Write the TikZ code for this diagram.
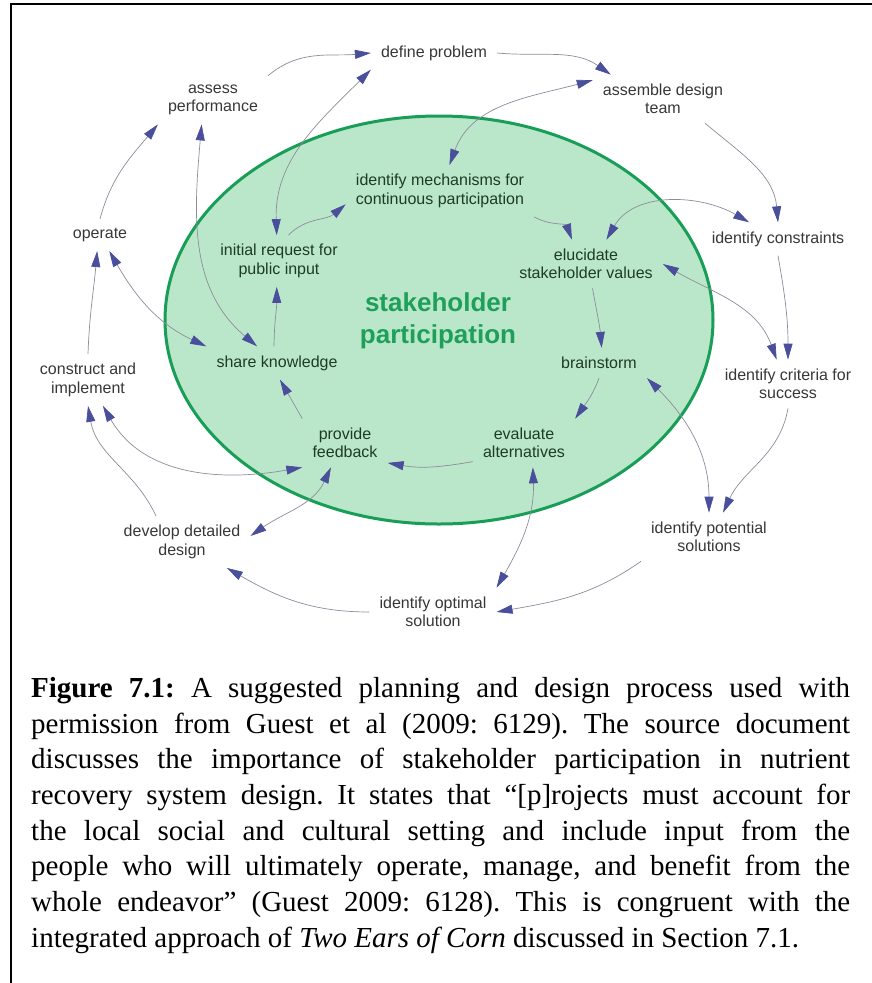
\documentclass[tikz,border=0pt]{standalone}
\usepackage{fontspec}
\setmainfont{Liberation Serif}
\newfontfamily\diagfont{Liberation Sans}
\usetikzlibrary{arrows.meta}
\definecolor{blobfill}{RGB}{186,231,201}
\definecolor{blobline}{RGB}{25,158,88}
\definecolor{hubgreen}{RGB}{30,160,90}
\definecolor{wire}{RGB}{140,140,155}
\definecolor{tipblue}{RGB}{74,79,156}
\definecolor{outtext}{RGB}{55,55,55}
\definecolor{intext}{RGB}{30,60,35}
\tikzset{
  lbl/.style={align=center,inner xsep=10pt,inner ysep=9pt,text=outtext,
    font=\diagfont\fontsize{16}{18.5}\selectfont},
  inlbl/.style={lbl,text=intext},
  flow/.style={draw=wire,line width=0.7pt,-{Triangle[length=16pt,width=9pt,color=tipblue]}},
  both/.style={flow,{Triangle[length=16pt,width=9pt,color=tipblue]}-{Triangle[length=16pt,width=9pt,color=tipblue]}},
}
\begin{document}
\frenchspacing
\begin{tikzpicture}[x=1pt,y=1pt]
	\useasboundingbox (0,0) rectangle (872,-983);
	\draw[line width=1.6pt] (11,-995) |- (885,-4);
	% the blob
	\draw[fill=blobfill,draw=blobline,line width=3pt] (439,-320) ellipse [x radius=274, y radius=204];
	\node[font=\diagfont\bfseries\fontsize{26}{32}\selectfont,text=hubgreen,align=center](hub) at (438,-321){stakeholder\\participation};
	% outer ring
	\node[lbl](define) at (434,-53){define problem};
	\node[lbl](assemble) at (663,-99){assemble design\\team};
	\node[lbl](constraints) at (778,-239){identify constraints};
	\node[lbl](criteria) at (788,-384){identify criteria for\\success};
	\node[lbl](potential) at (709,-537){identify potential\\solutions};
	\node[lbl](optimal) at (433,-612){identify optimal\\solution};
	\node[lbl](develop) at (182,-542){develop detailed\\design};
	\node[lbl](construct) at (88,-380){construct and\\implement};
	\node[lbl](operate) at (100,-235){operate};
	\node[lbl](assess) at (213,-100){assess\\performance};
	% inner ring
	\node[inlbl](initial) at (279,-261){initial request for\\public input};
	\node[inlbl](mech) at (440,-191){identify mechanisms for\\continuous participation};
	\node[inlbl](elucidate) at (586,-264){elucidate\\stakeholder values};
	\node[inlbl](brainstorm) at (599,-363){brainstorm};
	\node[inlbl](evaluate) at (524,-443){evaluate\\alternatives};
	\node[inlbl](feedback) at (345,-443){provide\\feedback};
	\node[inlbl](share) at (277,-363){share knowledge};
	% outer cycle
	\draw[flow] (assess.north east) to[out=40,in=185] (define.west);
	\draw[flow] (define.east) to[out=-5,in=145] (assemble.155);
	\draw[flow] (assemble.-30) to[out=-40,in=95] (constraints.north);
	\draw[flow] (constraints.south) to[out=-80,in=90] (criteria.north);
	\draw[flow] (criteria.south) to[out=-100,in=65] (potential.60);
	\draw[flow] (potential.south west) to[out=-145,in=10] (optimal.east);
	\draw[flow] (optimal.west) to[out=180,in=-30] (develop.-30);
	\draw[flow] (develop.135) to[out=115,in=-80] (construct.south);
	\draw[flow] (construct.north) to[out=88,in=-95] (operate.-100);
	\draw[flow] (operate.north) to[out=75,in=-130] (assess.south west);
	% inner cycle
	\draw[flow] (initial.70) to[out=45,in=-140] (mech.188);
	\draw[flow] (mech.south east) to[out=-30,in=110] (elucidate.120);
	\draw[flow] (elucidate.-75) to[out=-80,in=95] (brainstorm.80);
	\draw[flow] (brainstorm.south) to[out=-110,in=55] (evaluate.north east);
	\draw[flow] (evaluate.200) to[out=190,in=-10] (feedback.-25);
	\draw[flow] (feedback.north west) to[out=120,in=-60] (share.-80);
	\draw[flow] (share.100) to[out=90,in=-90] (initial.-95);
	% links between the rings
	\draw[both] (initial.95) to[out=92,in=-135] (define.south west);
	\draw[both] (mech.70) to[out=70,in=195] (assemble.165);
	\draw[both] (elucidate.50) to[out=60,in=150] (constraints.150);
	\draw[both] (elucidate.east) to[out=-30,in=110] (criteria.115);
	\draw[both] (brainstorm.south east) to[out=-45,in=90] (potential.north);
	\draw[both] (evaluate.-70) to[out=-88,in=60] (optimal.north east);
	\draw[both] (feedback.-120) to[out=-115,in=35] (develop.5);
	\draw[both] (construct.-60) to[out=-60,in=190] (feedback.south west);
	\draw[both] (operate.-60) to[out=-60,in=155] (share.north west);
	\draw[both] (assess.-115) to[out=-95,in=140] (share.140);
	% caption
	\node[anchor=north west,text width=819pt,align=justify,inner sep=0pt,
	  font=\fontsize{29}{35.7}\selectfont](caption) at (31,-677){%
	  \textbf{Figure 7.1:} A suggested planning and design process used with\linebreak
	  permission from Guest et al (2009: 6129). The source document\linebreak
	  discusses the importance of stakeholder participation in nutrient\linebreak
	  recovery system design. It states that ``[p]rojects must account for\linebreak
	  the local social and cultural setting and include input from the\linebreak
	  people who will ultimately operate, manage, and benefit from the\linebreak
	  whole endeavor'' (Guest 2009: 6128). This is congruent with the\linebreak
	  integrated approach of \textit{Two Ears of Corn} discussed in Section 7.1.};
\end{tikzpicture}
\end{document}
